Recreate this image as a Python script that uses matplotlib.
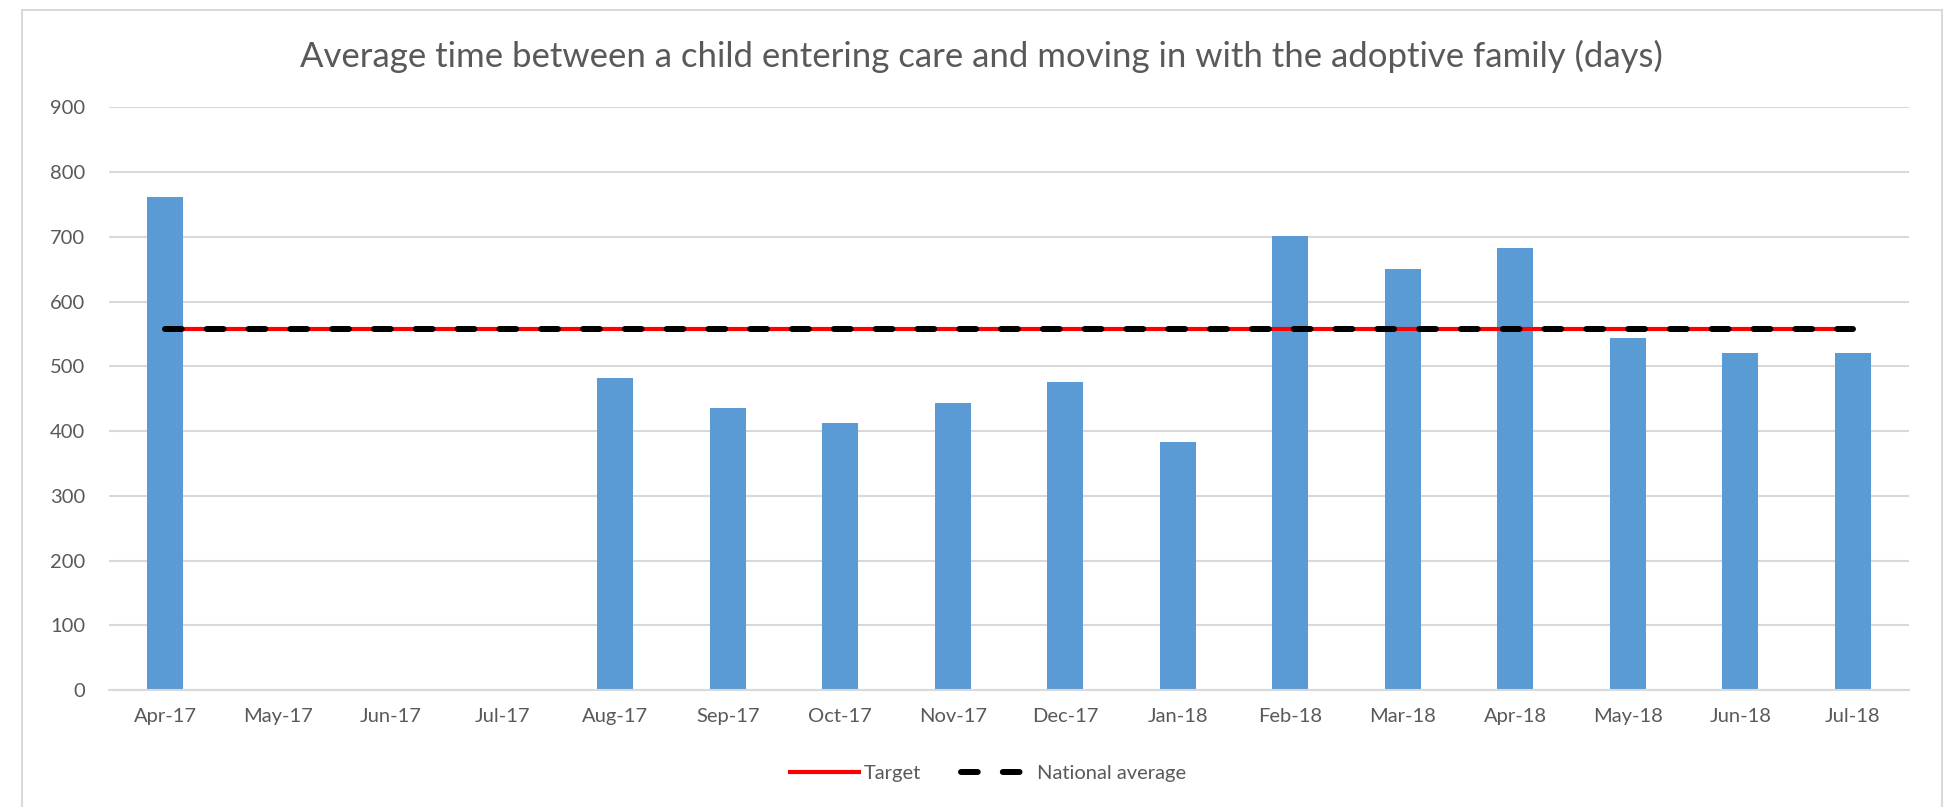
import numpy as np
import matplotlib
matplotlib.use("Agg")
import matplotlib.pyplot as plt
from matplotlib.patches import Rectangle

# data
months = ["Apr-17", "May-17", "Jun-17", "Jul-17", "Aug-17", "Sep-17", "Oct-17", "Nov-17",
          "Dec-17", "Jan-18", "Feb-18", "Mar-18", "Apr-18", "May-18", "Jun-18", "Jul-18"]
days = [762, 0, 0, 0, 482, 435, 412, 443, 475, 383, 701, 650, 682, 543, 520, 520]
target = [558] * 16
national_avg = [558] * 16

title = "Average time between a child entering care and moving in with the adoptive family (days)"

plt.rcParams['font.family'] = ['Lato', 'DejaVu Sans']
txt = '#595959'
grid = '#d9d9d9'

fig = plt.figure(figsize=(19.47, 8.07), dpi=100)
ax = fig.add_axes([0.056, 0.145, 0.9245, 0.722])

x = np.arange(len(months))
ax.bar(x, days, width=0.32, color='#5B9BD5', zorder=2)
ax.plot(x, target, color='#FF0000', lw=3, solid_capstyle='butt', zorder=3, label='Target')
ax.plot(x, national_avg, color='black', lw=4.3, dash_capstyle='round',
        dashes=(2.8, 4.2), zorder=4, label='National average')

ax.set_xlim(-0.5, len(months) - 0.5)
ax.set_ylim(0, 900)
ax.set_yticks(range(0, 901, 100))
ax.set_xticks(x)
ax.set_xticklabels(months)
ax.yaxis.grid(True, color=grid, lw=1.5, zorder=0)
ax.set_axisbelow(True)
for s in ['top', 'right', 'left']:
    ax.spines[s].set_visible(False)
ax.spines['bottom'].set_color(grid)
ax.spines['bottom'].set_linewidth(1.5)
ax.tick_params(axis='both', length=0, labelsize=14.5, labelcolor=txt)
ax.tick_params(axis='x', pad=13)
ax.tick_params(axis='y', pad=17)

fig.text(0.504, 0.93, title, ha='center', va='center', fontsize=25, color=txt)

leg = fig.legend(loc='center', bbox_to_anchor=(0.507, 0.041), ncol=2, frameon=False,
                 fontsize=14.5, handlelength=3.6, columnspacing=2.0, handletextpad=0.15)
for t in leg.get_texts():
    t.set_color(txt)

# outer chart border, runs off the bottom of the image
fig.patches.append(Rectangle((22 / 1947, -0.1), (1942 - 22) / 1947, 1.1 - 10 / 807,
                             transform=fig.transFigure, fill=False, ec=grid, lw=1.5))

fig.savefig('out.png', dpi=100)
